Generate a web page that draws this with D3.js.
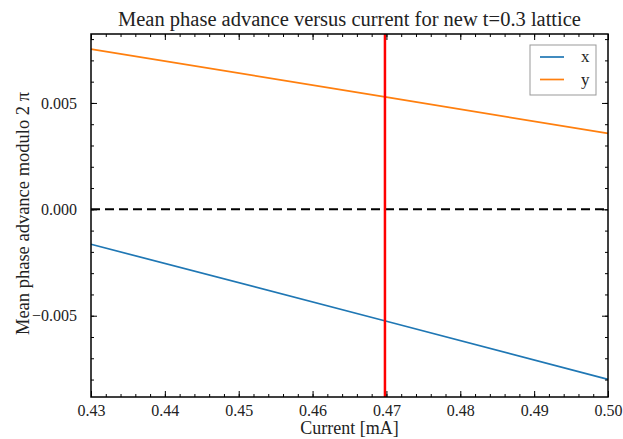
<!DOCTYPE html>
<html>
<head>
<meta charset="utf-8">
<script src="https://cdn.jsdelivr.net/npm/d3@7"></script>
<style>
  body { margin: 0; background: #fff; }
  text { font-family: "Liberation Serif", "DejaVu Serif", serif; fill: #222; }
</style>
</head>
<body>
<div id="chart"></div>
<script>
// data
let currents = [0.43, 0.47, 0.50]
let phaseX = [-0.00164, -0.00526, -0.00799]
let phaseY = [0.00753, 0.00527, 0.00357]
let seriesNames = ["x", "y"]
let seriesColors = ["#1f77b4", "#ff7f0e"]
let markerCurrent = 0.4698
let xTicks = [0.43, 0.44, 0.45, 0.46, 0.47, 0.48, 0.49, 0.50]
let yTicks = [-0.005, 0.000, 0.005]

let width = 623, height = 439
let margin = {top: 34, right: 15, bottom: 42, left: 91}
let w = width - margin.left - margin.right
let h = height - margin.top - margin.bottom

let x = d3.scaleLinear().domain([0.43, 0.50]).range([0, w])
let y = d3.scaleLinear().domain([-0.00882, 0.00824]).range([h, 0])

let svg = d3.select('#chart').append('svg')
    .attr("width", width)
    .attr("height", height)

let g = svg.append("g")
    .attr("transform", "translate(" + margin.left + "," + margin.top + ")")

let line = d3.line()
    .x(d => x(d[0]))
    .y(d => y(d[1]))

// zero line
g.append("path")
    .datum([[0.43, 0], [0.50, 0]])
    .attr("d", line)
    .attr("stroke", "#000")
    .attr("stroke-width", 2)
    .attr("stroke-dasharray", "9,5")
    .attr("fill", "none")

let series = [phaseX, phaseY]
series.forEach((vals, i) => {
  g.append("path")
      .datum(currents.map((c, j) => [c, vals[j]]))
      .attr("d", line)
      .attr("stroke", seriesColors[i])
      .attr("stroke-width", 1.7)
      .attr("fill", "none")
})

// vertical marker
g.append("line")
    .attr("x1", x(markerCurrent)).attr("x2", x(markerCurrent))
    .attr("y1", 0).attr("y2", h)
    .attr("stroke", "#ff0000")
    .attr("stroke-width", 2.5)

// axes, ticks pointing inward on all four sides
let fmtX = d3.format(".2f"), fmtY = d3.format(".3f")
let xMinor = d3.range(0.43, 0.5001, 0.002)
let yMinor = d3.range(-0.008, 0.0081, 0.001)

function styleAxis(sel) {
  sel.select(".domain").remove()
  sel.selectAll(".tick line").attr("stroke", "#000").attr("stroke-width", 1)
  sel.selectAll(".tick text").style("font-size", "16px").attr("fill", "#222")
}

g.append("g").attr("transform", "translate(0," + h + ")")
    .call(d3.axisBottom(x).tickValues(xTicks).tickFormat(fmtX).tickSizeInner(-6).tickPadding(8))
    .call(styleAxis)
g.append("g").attr("transform", "translate(0," + h + ")")
    .call(d3.axisBottom(x).tickValues(xMinor).tickFormat("").tickSizeInner(-3))
    .call(styleAxis)
g.append("g")
    .call(d3.axisTop(x).tickValues(xTicks).tickFormat("").tickSizeInner(-6))
    .call(styleAxis)
g.append("g")
    .call(d3.axisTop(x).tickValues(xMinor).tickFormat("").tickSizeInner(-3))
    .call(styleAxis)

g.append("g")
    .call(d3.axisLeft(y).tickValues(yTicks).tickFormat(d => fmtY(d).replace("-", "\u2212")).tickSizeInner(-6).tickPadding(14))
    .call(styleAxis)
g.append("g")
    .call(d3.axisLeft(y).tickValues(yMinor).tickFormat("").tickSizeInner(-3))
    .call(styleAxis)
g.append("g").attr("transform", "translate(" + w + ",0)")
    .call(d3.axisRight(y).tickValues(yTicks).tickFormat("").tickSizeInner(-6))
    .call(styleAxis)
g.append("g").attr("transform", "translate(" + w + ",0)")
    .call(d3.axisRight(y).tickValues(yMinor).tickFormat("").tickSizeInner(-3))
    .call(styleAxis)

// frame
g.append("rect")
    .attr("width", w).attr("height", h)
    .attr("fill", "none")
    .attr("stroke", "#000")
    .attr("stroke-width", 1.5)

// legend
let legend = g.append("g").attr("transform", "translate(" + (w - 78) + ",11)")
legend.append("rect")
    .attr("width", 66).attr("height", 50)
    .attr("fill", "#fff")
    .attr("stroke", "#999")
    .attr("stroke-width", 1)
seriesNames.forEach((name, i) => {
  legend.append("line")
      .attr("x1", 10).attr("x2", 34)
      .attr("y1", 12 + i * 22.5).attr("y2", 12 + i * 22.5)
      .attr("stroke", seriesColors[i])
      .attr("stroke-width", 1.7)
  legend.append("text")
      .attr("x", 51).attr("y", 12 + i * 22.5)
      .attr("dy", "0.3em")
      .style("font-size", "17px")
      .text(name)
})

// titles
svg.append("text")
    .attr("x", margin.left + w / 2).attr("y", 26)
    .attr("text-anchor", "middle")
    .style("font-size", "20.5px")
    .text("Mean phase advance versus current for new t=0.3 lattice")

svg.append("text")
    .attr("x", margin.left + w / 2).attr("y", 434)
    .attr("text-anchor", "middle")
    .style("font-size", "18px")
    .text("Current [mA]")

svg.append("text")
    .attr("transform", "translate(29," + (margin.top + h / 2 - 2) + ") rotate(-90)")
    .attr("text-anchor", "middle")
    .style("font-size", "18.5px")
    .text("Mean phase advance modulo 2 \u03c0")
</script>
</body>
</html>
